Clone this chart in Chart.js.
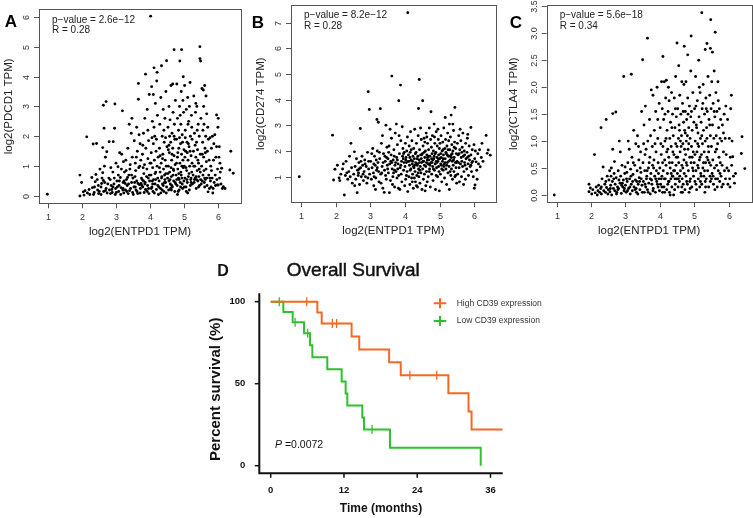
<!DOCTYPE html>
<html>
<head>
<meta charset="utf-8">
<script src="https://cdn.jsdelivr.net/npm/chart.js@4.4.1/dist/chart.umd.min.js"></script>
<style>
html,body{margin:0;padding:0;background:#fff;}
#wrap{position:relative;width:753px;height:518px;overflow:hidden;background:#fff;}
canvas{position:absolute;left:0;top:0;}
</style>
</head>
<body>
<div id="wrap">
<canvas id="cA" width="753" height="518"></canvas>
<canvas id="cB" width="753" height="518"></canvas>
<canvas id="cC" width="753" height="518"></canvas>
<canvas id="cD" width="753" height="518"></canvas>
</div>
<script>
// ---------------- DATA ----------------
const scatterXTicks = [1, 2, 3, 4, 5, 6];
const pdcd1YTicks = [0, 1, 2, 3, 4, 5, 6];
const cd274YTicks = [1, 2, 3, 4, 5, 6, 7];
const ctla4YTicks = [0, 0.5, 1, 1.5, 2, 2.5, 3, 3.5];

const pdcd1Stats = ["p\u2212value = 2.6e\u221212", "R = 0.28"];
const cd274Stats = ["p\u2212value = 8.2e\u221212", "R = 0.28"];
const ctla4Stats = ["p\u2212value = 5.6e\u221218", "R = 0.34"];

// log2(ENTPD1 TPM) vs log2(PDCD1 TPM)
const pdcd1Pts = [[0.97,0.06],[1.93,0.70],[1.98,0.45],[1.93,0.0],[2.03,0.14],[2.08,0.18],[2.13,1.98],[2.15,0.10],[2.2,0.22],[2.22,0.05],[2.05,0.03],
[2.28,0.62],[2.3,0.28],[2.32,1.74],[2.35,0.12],[2.38,0.48],[2.4,0.72],[2.42,1.76],[2.45,0.2],[2.47,0.35],[2.33,0.05],[2.44,0.55],[2.48,0.08],
[2.52,0.9],[2.55,0.3],[2.58,0.6],[2.6,1.62],[2.62,3.04],[2.63,0.15],[2.64,2.27],[2.66,0.45],[2.68,1.3],[2.7,3.16],[2.72,1.48],[2.55,0.05],[2.6,0.78],[2.7,0.25],[2.73,0.1],[2.65,1.0],[2.57,0.42],
[2.79,1.82],[2.8,0.2],[2.82,0.55],[2.85,0.35],[2.88,0.12],[2.9,0.8],[2.91,1.82],[2.93,0.4],[2.95,2.27],[2.96,3.08],[2.98,0.25],[2.78,0.6],[2.84,0.95],[2.97,0.05],[2.87,0.22],[2.99,1.1],
[3.02,0.5],[3.05,0.98],[3.07,0.15],[3.08,0.35],[3.1,1.45],[3.12,0.62],[3.14,0.28],[3.16,1.4],[3.18,2.85],[3.2,0.45],[3.22,0.1],[3.24,0.8],[3.03,0.3],[3.15,0.9],[3.19,0.2],[3.21,1.15],[3.06,0.7],[3.23,0.5],
[3.27,0.2],[3.28,1.2],[3.3,0.55],[3.32,0.35],[3.34,1.6],[3.35,0.08],[3.37,0.7],[3.38,2.4],[3.4,0.9],[3.42,0.25],[3.44,2.1],[3.45,0.45],[3.47,1.3],[3.48,0.12],[3.29,0.85],[3.36,0.4],[3.41,1.05],[3.46,2.6],[3.49,0.6],[3.31,0.15],
[3.52,0.3],[3.53,1.85],[3.55,0.65],[3.56,1.1],[3.58,0.2],[3.6,2.3],[3.6,0.5],[3.62,1.5],[3.63,0.08],[3.65,3.24],[3.65,3.77],[3.66,0.95],[3.68,0.38],[3.7,1.75],[3.71,0.25],[3.72,1.2],[3.74,0.6],[3.54,0.45],[3.57,0.85],[3.61,0.15],[3.67,2.05],[3.73,0.42],[3.69,1.0],[3.59,1.3],
[3.76,0.55],[3.77,1.4],[3.78,0.3],[3.8,2.1],[3.81,0.75],[3.82,0.12],[3.83,1.05],[3.84,2.6],[3.85,0.45],[3.86,4.08],[3.87,1.6],[3.88,0.2],[3.9,0.9],[3.91,2.9],[3.92,0.35],[3.93,1.25],[3.94,0.6],[3.95,1.85],[3.96,0.08],[3.97,3.4],[3.98,0.5],[3.99,1.1],[3.79,0.95],[3.89,0.65],[3.93,2.2],[3.78,1.7],[3.95,0.25],[3.84,0.4],
[4.01,6.02],[4.02,0.7],[4.03,1.45],[4.04,3.66],[4.05,0.3],[4.06,2.5],[4.07,0.95],[4.08,0.15],[4.09,1.75],[4.1,0.55],[4.11,4.29],[4.12,1.2],[4.13,2.0],[4.14,0.4],[4.15,3.1],[4.16,0.8],[4.17,1.5],[4.18,0.22],[4.19,3.85],[4.2,4.14],[4.2,1.0],[4.21,2.7],[4.22,0.6],[4.23,1.3],[4.24,0.05],[4.02,1.1],[4.06,0.5],[4.11,2.3],[4.14,0.75],[4.18,1.9],[4.22,0.35],[4.09,3.4],[4.05,1.95],
[4.26,0.5],[4.27,1.6],[4.28,2.4],[4.29,0.8],[4.3,0.25],[4.31,3.3],[4.32,1.1],[4.33,4.36],[4.34,0.65],[4.35,2.0],[4.36,0.4],[4.37,1.4],[4.38,2.9],[4.39,0.9],[4.4,0.15],[4.41,1.8],[4.42,0.7],[4.43,2.6],[4.44,1.2],[4.45,0.45],[4.46,3.5],[4.47,1.0],[4.48,4.53],[4.48,0.3],[4.49,1.65],[4.27,0.95],[4.33,0.6],[4.36,1.25],[4.4,2.2],[4.43,0.55],[4.46,0.75],[4.29,1.35],[4.38,0.35],[4.45,1.95],[4.31,0.1],
[4.51,0.6],[4.52,2.3],[4.53,1.0],[4.54,0.2],[4.55,3.0],[4.56,1.45],[4.57,0.8],[4.58,2.55],[4.59,0.4],[4.6,1.8],[4.61,3.7],[4.62,0.65],[4.63,1.2],[4.64,2.1],[4.65,0.3],[4.66,1.6],[4.67,2.8],[4.68,0.9],[4.69,0.5],[4.7,4.9],[4.7,1.35],[4.71,2.4],[4.72,0.15],[4.73,1.05],[4.74,3.2],[4.52,0.75],[4.55,1.7],[4.58,0.55],[4.61,0.95],[4.64,1.4],[4.67,0.7],[4.7,2.0],[4.73,0.45],[4.6,0.25],[4.66,3.75],[4.53,1.55],[4.57,2.0],[4.63,0.35],[4.72,1.9],[4.69,0.85],
[4.76,0.7],[4.77,1.9],[4.78,3.75],[4.79,0.35],[4.8,1.3],[4.8,2.6],[4.81,0.9],[4.82,0.15],[4.83,2.2],[4.84,1.6],[4.85,0.55],[4.86,3.0],[4.87,4.52],[4.87,1.1],[4.88,0.45],[4.89,1.75],[4.9,2.4],[4.9,0.8],[4.91,3.5],[4.92,4.9],[4.92,1.4],[4.93,0.6],[4.94,2.05],[4.95,0.25],[4.96,1.2],[4.97,3.99],[4.97,0.95],[4.98,2.8],[4.99,0.5],[4.99,1.55],[4.78,0.55],[4.81,1.45],[4.84,0.75],[4.86,1.95],[4.89,0.3],[4.93,1.0],[4.95,1.8],[4.77,1.1],[4.83,0.6],[4.88,2.7],[4.94,0.4],[4.96,3.2],[4.8,0.05],[4.91,0.7],
[5.0,1.0],[5.01,3.7],[5.02,0.6],[5.03,2.2],[5.04,1.5],[5.05,0.3],[5.06,2.9],[5.07,0.85],[5.08,1.8],[5.09,0.45],[5.1,3.3],[5.11,1.2],[5.12,0.65],[5.13,2.5],[5.14,1.65],[5.15,0.2],[5.16,1.0],[5.17,3.8],[5.18,2.0],[5.19,0.55],[5.2,1.35],[5.21,2.7],[5.22,0.8],[5.23,1.9],[5.24,0.4],[5.02,1.3],[5.05,0.95],[5.08,0.55],[5.11,2.4],[5.14,0.75],[5.17,1.5],[5.2,0.6],[5.23,1.1],[5.03,1.95],[5.06,0.15],[5.12,1.75],[5.18,0.35],[5.09,1.45],[5.15,3.0],[5.22,2.3],
[5.26,0.7],[5.27,1.5],[5.28,3.35],[5.29,0.45],[5.3,2.1],[5.31,1.0],[5.32,0.6],[5.33,2.8],[5.34,1.3],[5.35,0.25],[5.36,1.8],[5.37,3.0],[5.38,0.85],[5.39,1.55],[5.4,0.5],[5.41,2.4],[5.42,1.1],[5.43,0.65],[5.44,2.0],[5.45,0.35],[5.46,5.0],[5.46,4.6],[5.47,1.4],[5.48,4.52],[5.48,0.55],[5.49,2.6],[5.28,1.0],[5.32,1.7],[5.36,0.55],[5.4,1.2],[5.44,0.9],[5.3,0.55],[5.38,2.2],[5.42,0.3],[5.34,3.1],[5.47,0.8],
[5.51,1.0],[5.52,3.6],[5.53,0.5],[5.54,1.8],[5.55,0.7],[5.56,3.55],[5.57,1.3],[5.58,2.4],[5.59,0.45],[5.6,3.7],[5.61,1.6],[5.62,0.55],[5.63,2.0],[5.64,0.9],[5.65,1.15],[5.66,2.75],[5.67,0.35],[5.68,1.5],[5.7,0.14],[5.71,1.9],[5.72,0.7],[5.73,1.2],[5.74,0.25],[5.55,2.2],[5.58,0.85],[5.62,1.45],[5.66,0.6],[5.53,1.4],[5.6,0.3],[5.69,2.3],[5.57,3.0],[5.64,3.35],
[5.76,1.95],[5.77,0.5],[5.78,1.0],[5.79,0.3],[5.8,1.6],[5.82,0.6],[5.83,2.0],[5.85,0.25],[5.86,1.2],[5.88,0.45],[5.9,2.05],[5.92,0.35],[5.93,1.3],[5.95,1.65],[5.95,2.71],[5.96,0.55],[5.98,0.9],[5.99,2.3],[5.8,0.85],[5.87,1.75],[5.91,0.7],[5.84,0.1],[5.97,0.37],
[6.0,2.6],[6.0,0.37],[6.02,1.3],[6.04,0.6],[6.06,0.8],[6.08,0.4],[6.1,0.93],[6.12,0.25],[6.15,0.31],[6.05,1.1],[6.34,0.87],[6.37,1.5],[6.44,0.76],[6.2,0.25],[6.03,1.65],
[2.36,0.3],[2.5,0.15],[2.62,0.52],[2.75,0.4],[2.83,0.08],[2.94,0.6],[3.0,0.12],[3.09,0.5],[3.13,0.05],[3.26,0.42],[3.33,0.62],[3.39,0.18],[3.5,0.05],[3.56,0.3],[3.64,0.42],[3.7,0.1],[3.75,0.35],[3.8,0.5],[3.86,0.22],[3.91,0.15],[3.97,0.7],[4.03,0.25],[4.07,0.4],[4.12,0.1],[4.16,0.55],[4.25,0.3],[4.35,0.2],[4.42,0.45],[4.47,0.1],[4.55,0.5],[4.62,0.2],[4.75,0.4],[4.85,0.2],[5.0,0.3],[5.1,0.1],[5.2,0.45],[5.35,0.65],[5.5,0.4],[5.6,0.6],[5.75,0.6],[3.45,0.7],[3.2,0.25],[2.9,0.3],[2.68,0.18]];

// log2(ENTPD1 TPM) vs log2(CD274 TPM)
const cd274Pts = [[0.95,1.0],[1.91,2.62],[1.94,0.87],[1.98,1.29],[2.05,1.45],[2.1,0.95],[2.15,1.1],[2.2,1.3],[2.25,0.29],[2.28,1.05],[2.3,1.6],[2.35,0.9],[2.38,1.2],[2.42,1.0],[2.44,2.3],[2.46,1.35],[2.48,0.75],[2.12,0.85],[2.22,1.5],[2.32,1.15],[2.4,1.8],
[2.52,1.1],[2.54,1.97],[2.56,1.4],[2.58,0.9],[2.6,1.7],[2.62,0.38],[2.63,1.25],[2.65,1.05],[2.67,1.55],[2.69,0.7],[2.71,2.88],[2.72,1.35],[2.74,1.0],[2.76,1.8],[2.78,1.45],[2.8,0.85],[2.82,1.2],[2.84,1.65],[2.86,1.0],[2.88,1.4],[2.9,0.75],[2.92,1.95],[2.94,4.31],[2.95,1.3],[2.97,3.62],[2.98,1.1],[2.55,0.65],[2.66,1.15],[2.73,1.6],[2.85,1.5],[2.93,0.95],[2.79,1.1],
[3.01,1.6],[3.03,0.9],[3.05,1.35],[3.07,2.1],[3.09,1.15],[3.1,0.65],[3.12,1.8],[3.14,1.45],[3.16,0.95],[3.18,1.25],[3.19,3.23],[3.2,2.0],[3.22,1.55],[3.23,3.12],[3.25,0.8],[3.27,1.7],[3.29,3.65],[3.3,1.1],[3.32,2.3],[3.34,1.4],[3.36,0.55],[3.38,1.9],[3.4,0.39],[3.41,1.25],[3.43,1.6],[3.45,3.01],[3.46,0.9],[3.48,2.15],[3.49,1.45],[3.04,1.9],[3.11,1.0],[3.17,1.65],[3.24,1.2],[3.31,0.75],[3.37,1.55],[3.44,1.05],[3.15,0.5],[3.35,2.6],[3.26,1.95],[3.47,1.75],
[3.51,1.7],[3.52,1.15],[3.54,2.2],[3.55,0.38],[3.56,1.5],[3.58,0.85],[3.6,1.85],[3.61,2.5],[3.62,4.92],[3.63,1.3],[3.65,1.0],[3.66,1.65],[3.68,2.05],[3.7,0.6],[3.71,1.45],[3.72,2.7],[3.74,1.2],[3.76,1.75],[3.77,0.95],[3.78,2.25],[3.8,1.5],[3.82,3.96],[3.82,1.05],[3.84,1.9],[3.85,0.5],[3.86,1.35],[3.87,4.57],[3.88,2.4],[3.9,1.6],[3.91,0.8],[3.93,1.8],[3.94,2.1],[3.96,1.25],[3.97,1.55],[3.99,0.65],[3.53,1.95],[3.59,1.6],[3.64,0.7],[3.69,1.8],[3.73,1.55],[3.79,1.3],[3.83,2.6],[3.89,1.1],[3.95,1.7],[3.57,2.85],[3.75,3.05],[3.92,2.95],[3.67,1.15],[3.81,0.55],[3.98,1.95],
[4.0,1.4],[4.01,2.3],[4.02,0.9],[4.03,1.75],[4.05,2.0],[4.06,1.2],[4.07,2.55],[4.08,7.39],[4.08,0.42],[4.09,1.6],[4.1,1.85],[4.11,1.0],[4.12,2.2],[4.13,1.45],[4.14,0.7],[4.15,1.95],[4.16,2.75],[4.17,1.3],[4.18,1.65],[4.19,0.95],[4.2,2.4],[4.21,1.5],[4.22,1.1],[4.23,1.8],[4.24,0.55],[4.25,2.1],[4.26,1.35],[4.27,1.7],[4.28,2.85],[4.29,1.2],[4.3,0.8],[4.31,1.55],[4.32,1.95],[4.33,2.3],[4.34,1.05],[4.35,1.45],[4.36,0.6],[4.37,1.8],[4.38,2.6],[4.39,3.66],[4.39,1.3],[4.4,1.0],[4.41,4.79],[4.41,1.65],[4.42,2.05],[4.43,0.75],[4.44,1.4],[4.45,1.85],[4.46,1.15],[4.47,2.45],[4.48,1.55],[4.49,0.5],[4.04,1.05],[4.12,1.6],[4.18,2.05],[4.24,1.4],[4.3,1.9],[4.36,1.5],[4.43,1.25],[4.47,1.7],[4.02,1.65],[4.27,0.95],[4.33,0.65],[4.45,2.9],[4.15,1.25],[4.21,0.8],[4.38,1.15],
[4.5,1.9],[4.51,3.96],[4.51,1.3],[4.52,2.2],[4.53,0.9],[4.54,1.6],[4.55,2.5],[4.56,1.1],[4.57,1.75],[4.58,0.45],[4.59,2.0],[4.6,1.4],[4.61,2.7],[4.62,1.2],[4.63,1.85],[4.64,0.8],[4.65,2.3],[4.66,1.5],[4.67,1.0],[4.68,2.05],[4.69,1.65],[4.7,2.9],[4.71,1.3],[4.72,1.8],[4.73,0.6],[4.74,2.45],[4.75,3.53],[4.75,1.55],[4.76,2.15],[4.77,1.1],[4.78,1.9],[4.79,2.6],[4.8,1.4],[4.81,0.85],[4.82,2.0],[4.83,1.7],[4.84,3.05],[4.85,1.25],[4.86,2.3],[4.87,1.5],[4.88,0.5],[4.89,1.95],[4.9,2.75],[4.91,1.35],[4.92,1.75],[4.93,2.2],[4.94,1.0],[4.95,1.6],[4.96,2.45],[4.97,1.85],[4.98,1.2],[4.99,0.45],[4.99,2.1],[4.52,1.6],[4.57,2.35],[4.62,1.55],[4.67,1.8],[4.72,1.45],[4.77,1.7],[4.82,1.3],[4.87,1.9],[4.92,1.55],[4.97,1.4],[4.55,1.95],[4.65,1.75],[4.85,2.55],[4.95,2.85],[4.6,0.65],[4.8,1.65],[4.9,1.05],[4.7,1.2],[4.63,2.55],
[5.0,1.7],[5.01,2.3],[5.02,1.1],[5.03,1.9],[5.04,2.6],[5.05,1.45],[5.06,0.8],[5.07,2.0],[5.08,1.6],[5.09,2.35],[5.1,1.25],[5.11,1.85],[5.12,2.9],[5.13,1.5],[5.14,0.95],[5.15,2.1],[5.16,3.31],[5.16,1.7],[5.17,2.45],[5.18,1.3],[5.19,1.9],[5.2,0.7],[5.21,2.2],[5.22,1.55],[5.23,2.7],[5.24,1.15],[5.25,1.8],[5.26,2.4],[5.27,1.4],[5.28,0.5],[5.29,2.05],[5.3,1.65],[5.31,2.55],[5.32,1.05],[5.33,3.4],[5.33,1.85],[5.34,1.3],[5.35,2.25],[5.36,1.6],[5.37,0.9],[5.38,2.0],[5.39,1.45],[5.4,2.8],[5.41,1.2],[5.42,1.75],[5.43,2.35],[5.44,3.7],[5.44,1.0],[5.45,1.55],[5.46,2.1],[5.47,1.35],[5.48,1.9],[5.49,0.75],[5.04,1.75],[5.1,2.05],[5.18,1.95],[5.26,1.6],[5.34,1.75],[5.42,2.15],[5.06,1.3],[5.2,1.45],[5.3,1.2],[5.38,3.05],[5.46,1.05],[5.12,1.4],[5.24,2.05],[5.36,1.9],[5.28,3.05],
[5.5,1.6],[5.51,2.3],[5.52,1.1],[5.53,1.85],[5.55,2.6],[5.56,1.35],[5.57,0.8],[5.58,2.05],[5.6,1.5],[5.61,2.4],[5.62,1.75],[5.63,1.0],[5.65,2.15],[5.66,1.4],[5.67,2.7],[5.68,1.8],[5.7,1.2],[5.71,2.0],[5.72,1.55],[5.74,0.9],[5.75,2.3],[5.76,1.7],[5.78,1.3],[5.79,1.95],[5.8,2.5],[5.82,1.5],[5.83,1.05],[5.85,2.2],[5.86,1.65],[5.88,1.4],[5.9,2.92],[5.9,1.85],[5.92,1.2],[5.94,2.05],[5.95,1.6],[5.97,1.0],[5.99,2.25],[5.54,1.55],[5.64,1.95],[5.73,1.45],[5.84,1.8],[5.93,1.55],[5.59,2.85],[5.69,0.7],[5.81,2.65],
[6.0,0.55],[6.02,0.68],[6.01,1.7],[6.03,2.0],[6.05,1.58],[6.07,1.25],[6.1,1.9],[6.12,1.5],[6.15,2.05],[6.17,1.39],[6.2,1.75],[6.25,1.6],[6.34,2.61],[6.37,1.91],[6.4,2.04],[6.46,1.84],[6.08,0.9],[6.22,2.3],
[3.2,1.35],[3.33,1.15],[3.42,1.8],[3.5,1.3],[3.62,1.55],[3.7,1.25],[3.78,1.65],[3.88,1.45],[3.96,1.9],[4.04,1.55],[4.14,1.75],[4.22,1.6],[4.28,1.45],[4.35,1.7],[4.42,1.55],[4.48,1.85],[4.56,1.45],[4.64,1.65],[4.7,1.5],[4.78,1.55],[4.84,1.8],[4.9,1.6],[4.96,1.7],[5.03,1.5],[5.1,1.7],[5.16,1.55],[5.22,1.85],[5.3,1.8],[5.4,1.65],[5.48,1.55],[5.56,1.9],[5.64,1.6],[5.72,1.85],[5.8,1.75],[5.9,1.45],[3.1,1.5],[2.95,1.6],[2.68,1.3]];

// log2(ENTPD1 TPM) vs log2(CTLA4 TPM)
const ctla4Pts = [[0.93,0.0],[1.94,0.2],[1.94,0.06],[1.98,0.13],[2.02,0.02],[2.05,0.1],[2.1,0.75],[2.12,0.04],[2.15,0.15],[2.18,0.0],[2.2,0.08],[2.22,0.18],[2.25,0.05],[2.28,0.12],[2.29,1.25],[2.3,0.02],[2.32,0.3],[2.35,0.52],[2.37,0.08],[2.4,0.2],[2.42,0.05],[2.44,1.4],[2.45,0.14],[2.47,0.35],[2.49,0.02],
[2.5,0.1],[2.52,0.28],[2.54,0.45],[2.55,0.06],[2.57,0.18],[2.59,0.5],[2.6,0.0],[2.62,0.25],[2.63,0.85],[2.63,1.51],[2.65,0.12],[2.67,0.4],[2.69,0.08],[2.7,0.2],[2.72,1.54],[2.73,0.32],[2.75,0.05],[2.77,0.15],[2.79,0.45],[2.8,0.12],[2.82,1.0],[2.84,0.22],[2.86,0.35],[2.88,0.03],[2.9,0.55],[2.92,0.15],[2.94,0.28],[2.95,2.2],[2.96,0.08],[2.98,0.4],[2.58,0.35],[2.68,0.62],[2.78,0.1],[2.85,0.8],[2.91,0.22],[2.99,0.52],
[3.0,0.18],[3.02,0.05],[3.04,0.42],[3.05,0.25],[3.07,0.6],[3.09,0.12],[3.11,0.85],[3.12,0.3],[3.14,0.02],[3.15,0.48],[3.17,2.24],[3.17,0.2],[3.19,0.7],[3.2,0.08],[3.22,0.38],[3.24,1.2],[3.25,0.15],[3.27,0.55],[3.29,0.28],[3.3,0.95],[3.32,0.05],[3.34,0.45],[3.35,1.1],[3.37,0.2],[3.39,0.65],[3.4,0.32],[3.42,0.1],[3.44,0.8],[3.45,0.42],[3.47,1.55],[3.48,0.18],[3.5,2.51],[3.03,0.3],[3.13,0.15],[3.23,0.6],[3.33,0.25],[3.43,0.5],[3.08,1.0],[3.28,0.1],[3.38,0.9],[3.46,0.3],[3.36,0.02],
[3.51,0.6],[3.52,0.25],[3.54,1.3],[3.55,0.05],[3.56,0.45],[3.58,1.65],[3.59,0.15],[3.6,0.85],[3.62,0.35],[3.64,2.91],[3.64,0.1],[3.65,1.0],[3.67,0.5],[3.68,0.22],[3.7,1.4],[3.71,0.7],[3.72,0.02],[3.74,0.4],[3.75,1.95],[3.76,0.28],[3.78,0.9],[3.79,0.55],[3.8,1.85],[3.81,0.12],[3.83,0.65],[3.84,1.2],[3.85,0.35],[3.87,0.05],[3.88,1.55],[3.89,0.8],[3.9,0.45],[3.92,2.0],[3.93,0.2],[3.94,1.05],[3.95,0.6],[3.97,0.3],[3.98,1.7],[3.99,0.08],[3.53,0.95],[3.61,0.3],[3.69,0.6],[3.77,0.2],[3.86,0.95],[3.96,0.4],[3.57,0.75],[3.73,1.1],[3.82,0.5],[3.91,0.25],[3.66,0.05],[3.94,1.4],
[4.0,0.5],[4.01,1.25],[4.02,0.2],[4.04,0.75],[4.05,2.1],[4.06,0.35],[4.07,1.6],[4.08,0.05],[4.09,2.57],[4.09,0.9],[4.1,0.45],[4.11,1.4],[4.12,0.15],[4.13,2.1],[4.14,0.65],[4.15,1.0],[4.16,0.3],[4.17,1.8],[4.18,0.55],[4.19,2.13],[4.2,0.1],[4.21,1.2],[4.22,0.4],[4.23,0.85],[4.24,1.55],[4.25,0.25],[4.26,0.7],[4.27,1.75],[4.28,0.05],[4.29,1.05],[4.3,0.5],[4.31,1.35],[4.32,0.3],[4.33,0.9],[4.34,1.9],[4.35,0.15],[4.36,0.6],[4.37,1.5],[4.38,0.35],[4.39,1.1],[4.4,0.0],[4.41,0.75],[4.42,1.8],[4.43,0.45],[4.44,1.25],[4.45,0.2],[4.46,2.2],[4.46,0.95],[4.47,0.55],[4.48,1.45],[4.49,0.3],[4.03,0.95],[4.08,0.6],[4.13,0.3],[4.18,1.05],[4.23,0.2],[4.28,0.6],[4.33,0.4],[4.38,0.8],[4.43,0.1],[4.48,0.7],[4.15,1.5],[4.25,2.0],[4.35,1.25],[4.45,1.6],[4.06,0.15],[4.4,0.45],[4.3,0.0],[4.2,0.8],
[4.5,2.82],[4.5,0.9],[4.51,0.4],[4.52,1.6],[4.53,0.15],[4.54,1.05],[4.55,2.4],[4.55,0.6],[4.56,1.3],[4.57,0.25],[4.58,1.85],[4.59,0.8],[4.6,0.45],[4.61,1.5],[4.62,0.05],[4.63,1.1],[4.64,2.1],[4.64,0.55],[4.65,0.3],[4.66,1.7],[4.67,0.95],[4.68,0.2],[4.69,1.35],[4.7,2.05],[4.7,0.65],[4.71,2.76],[4.71,0.4],[4.72,1.2],[4.73,0.1],[4.74,1.55],[4.75,0.75],[4.76,2.1],[4.76,0.35],[4.77,1.0],[4.78,1.4],[4.79,0.55],[4.8,0.2],[4.81,2.6],[4.81,1.8],[4.82,0.85],[4.83,0.45],[4.84,1.25],[4.85,0.05],[4.86,1.65],[4.87,0.7],[4.88,1.05],[4.89,0.3],[4.9,2.3],[4.9,1.45],[4.91,2.95],[4.91,0.6],[4.92,0.9],[4.93,0.15],[4.94,1.2],[4.95,0.5],[4.96,1.9],[4.97,0.8],[4.98,0.35],[4.99,1.35],[4.52,0.7],[4.57,1.2],[4.62,0.9],[4.67,0.5],[4.72,0.85],[4.77,0.6],[4.82,1.5],[4.87,0.25],[4.92,1.55],[4.97,0.45],[4.54,0.3],[4.64,0.15],[4.74,1.15],[4.84,0.95],[4.94,0.7],[4.6,1.0],[4.8,1.1],[4.68,1.55],
[5.0,0.6],[5.01,1.6],[5.02,0.25],[5.03,1.0],[5.04,2.2],[5.05,0.45],[5.06,1.3],[5.07,0.1],[5.08,0.8],[5.09,1.75],[5.1,0.55],[5.11,1.15],[5.12,0.3],[5.13,2.5],[5.13,0.9],[5.14,1.45],[5.15,0.65],[5.16,0.15],[5.17,1.9],[5.18,1.05],[5.19,0.4],[5.2,1.35],[5.21,0.75],[5.22,3.38],[5.22,0.2],[5.23,1.6],[5.24,0.95],[5.25,0.5],[5.26,2.05],[5.27,1.2],[5.28,0.35],[5.29,0.8],[5.3,1.5],[5.31,0.05],[5.32,2.7],[5.32,1.0],[5.33,0.6],[5.34,1.8],[5.35,0.3],[5.36,1.25],[5.37,2.81],[5.37,0.7],[5.38,1.55],[5.39,0.45],[5.4,2.2],[5.41,0.9],[5.42,0.15],[5.43,1.4],[5.44,0.6],[5.45,1.85],[5.46,0.35],[5.47,2.72],[5.47,1.1],[5.48,3.25],[5.48,0.55],[5.49,1.6],[5.02,0.75],[5.07,1.25],[5.12,0.5],[5.17,0.7],[5.22,1.1],[5.27,0.6],[5.32,0.25],[5.37,1.05],[5.42,0.8],[5.47,0.25],[5.05,1.65],[5.15,2.0],[5.25,1.7],[5.35,1.6],[5.45,1.3],[5.1,0.95],[5.2,0.35],[5.3,0.45],[5.4,0.65],
[5.5,0.9],[5.51,2.1],[5.52,0.4],[5.53,1.3],[5.54,0.65],[5.55,1.7],[5.56,0.2],[5.57,1.05],[5.58,2.3],[5.59,0.5],[5.6,1.45],[5.61,3.02],[5.61,0.8],[5.62,0.3],[5.63,1.9],[5.64,1.1],[5.65,0.55],[5.66,1.55],[5.67,0.15],[5.68,0.95],[5.69,2.1],[5.7,0.45],[5.71,1.25],[5.72,0.7],[5.73,1.6],[5.74,0.25],[5.75,1.05],[5.76,0.6],[5.77,1.4],[5.78,0.35],[5.8,1.0],[5.81,0.55],[5.82,1.3],[5.84,0.2],[5.85,0.8],[5.87,1.5],[5.88,0.45],[5.9,1.05],[5.91,0.3],[5.93,0.75],[5.95,0.5],[5.97,1.4],[5.98,0.2],[5.55,0.35],[5.65,0.85],[5.75,0.4],[5.85,1.15],[5.6,0.1],[5.7,1.75],[5.8,0.15],[5.92,1.65],[5.53,2.65],[5.58,1.55],
[6.0,0.45],[6.02,1.05],[6.03,0.3],[6.05,0.7],[6.06,1.6],[6.08,1.85],[6.09,0.55],[6.12,0.71],[6.14,0.35],[6.17,0.22],[6.04,0.15],[6.1,1.0],[6.37,0.77],[6.39,1.08],[6.47,0.49],[6.2,0.4],
[2.3,0.15],[2.43,0.25],[2.56,0.12],[2.66,0.3],[2.74,0.02],[2.81,0.28],[2.89,0.18],[2.97,0.12],[3.06,0.08],[3.16,0.35],[3.21,0.25],[3.31,0.12],[3.41,0.25],[3.49,0.05],[3.57,0.2],[3.63,0.45],[3.72,0.3],[3.8,0.08],[3.88,0.3],[3.95,0.15],[4.04,0.3],[4.14,0.05],[4.27,0.25],[4.36,0.35],[4.44,0.3],[4.58,0.35],[4.66,0.05],[4.78,0.25],[4.88,0.12],[5.05,0.2],[5.18,0.25],[5.33,0.15],[5.5,0.3],[5.68,0.3]];

// Kaplan-Meier: Overall Survival
const survXTicks = [0, 12, 24, 36];
const survYTicks = [0, 50, 100];
const highTimes = [0, 7.64, 8.35, 13.25, 14.5, 19.4, 21.3, 29.1, 32.4, 32.9, 38];
const highSurv  = [100, 93.33, 86.67, 78.79, 70.91, 63.03, 55.15, 44.12, 33.09, 22.06, 22.06];
const highCensT = [5.9, 10.1, 10.8, 22.8, 27.2];
const highCensS = [100, 86.67, 86.67, 55.15, 55.15];
const lowTimes  = [0, 2.07, 3.6, 5.46, 6.44, 6.82, 9.27, 11.62, 12.27, 12.55, 15.0, 15.28, 19.53, 34.4];
const lowSurv   = [100, 93.75, 87.5, 80.77, 73.43, 66.08, 58.74, 51.40, 44.06, 36.71, 29.37, 22.03, 11.01, 0];
const lowCensT  = [1.4, 4.0, 6.05, 16.6];
const lowCensS  = [100, 87.5, 80.77, 22.03];
const survLegend = ["High CD39 expression", "Low CD39 expression"];
const survP = "0.0072";

// ---------------- DRAWING ----------------
const FF = '"Liberation Sans", Arial, Helvetica, sans-serif';
const ORANGE = '#F26A22';
const GREEN = '#2EC12E';

function toXY(pts){ return pts.map(p => ({x:p[0], y:p[1]})); }
function zipXY(xs, ys){ return xs.map((x,i) => ({x:x, y:ys[i]})); }

function rPanelPlugin(o){
  return {
    id: 'rpanel' + o.letter,
    afterDraw(chart){
      const ctx = chart.ctx, a = chart.chartArea;
      const xs = chart.scales.x, ys = chart.scales.y;
      ctx.save();
      ctx.strokeStyle = '#555'; ctx.lineWidth = 1;
      ctx.strokeRect(Math.round(a.left)+0.5, Math.round(a.top)+0.5, Math.round(a.right-a.left), Math.round(a.bottom-a.top));
      ctx.fillStyle = '#333';
      ctx.font = '9px ' + FF;
      ctx.textAlign = 'center'; ctx.textBaseline = 'middle';
      o.xTicks.forEach(t => {
        const px = Math.round(xs.getPixelForValue(t)) + 0.5;
        ctx.beginPath(); ctx.moveTo(px, a.bottom); ctx.lineTo(px, a.bottom + 5); ctx.stroke();
        ctx.fillText(String(t), px, a.bottom + 14);
      });
      o.yTicks.forEach(t => {
        const py = Math.round(ys.getPixelForValue(t)) + 0.5;
        ctx.beginPath(); ctx.moveTo(a.left - 5, py); ctx.lineTo(a.left, py); ctx.stroke();
        ctx.save(); ctx.translate(a.left - 12, py); ctx.rotate(-Math.PI/2);
        ctx.fillText(o.yFmt(t), 0, 0); ctx.restore();
      });
      ctx.fillStyle = '#222';
      ctx.font = '11.5px ' + FF;
      ctx.fillText(o.xTitle, (a.left + a.right)/2, a.bottom + 29);
      ctx.save(); ctx.translate(a.left - o.yTitleOff, (a.top + a.bottom)/2); ctx.rotate(-Math.PI/2);
      ctx.fillText(o.yTitle, 0, 0); ctx.restore();
      ctx.textAlign = 'left';
      ctx.font = '10px ' + FF;
      ctx.fillText(o.stats[0], a.left + 13, a.top + 10.7);
      ctx.fillText(o.stats[1], a.left + 13, a.top + 21);
      ctx.fillStyle = '#000';
      ctx.textAlign = 'center';
      ctx.font = 'bold 17px ' + FF;
      ctx.fillText(o.letter, o.letterX, o.letterY);
      ctx.restore();
    }
  };
}

function makeScatter(id, pts, xr, yr, pad, o){
  new Chart(document.getElementById(id), {
    type: 'scatter',
    data: { datasets: [{ data: toXY(pts), pointRadius: 1.45, pointHoverRadius: 1.45, backgroundColor: '#000', borderWidth: 0 }] },
    options: {
      responsive: false, animation: false, devicePixelRatio: 1,
      layout: { padding: pad },
      plugins: { legend: { display: false }, tooltip: { enabled: false } },
      scales: {
        x: { type: 'linear', display: false, min: xr[0], max: xr[1] },
        y: { type: 'linear', display: false, min: yr[0], max: yr[1] }
      }
    },
    plugins: [rPanelPlugin(o)]
  });
}

const intFmt = t => String(t);
const decFmt = t => t.toFixed(1);

makeScatter('cA', pdcd1Pts, [0.726, 6.669], [-0.244, 6.25],
  {left: 39, top: 9.3, right: 512, bottom: 314.7},
  {xTicks: scatterXTicks, yTicks: pdcd1YTicks, yFmt: intFmt, xTitle: 'log2(ENTPD1 TPM)', yTitle: 'log2(PDCD1 TPM)', yTitleOff: 30, stats: pdcd1Stats, letter: 'A', letterX: 11, letterY: 22});
makeScatter('cB', cd274Pts, [0.712, 6.616], [0.004, 7.69],
  {left: 291, top: 5, right: 257.3, bottom: 315.7},
  {xTicks: scatterXTicks, yTicks: cd274YTicks, yFmt: intFmt, xTitle: 'log2(ENTPD1 TPM)', yTitle: 'log2(CD274 TPM)', yTitleOff: 30, stats: cd274Stats, letter: 'B', letterX: 258, letterY: 23});
makeScatter('cC', ctla4Pts, [0.71, 6.667], [-0.135, 3.525],
  {left: 546.7, top: 5, right: 1, bottom: 315.7},
  {xTicks: scatterXTicks, yTicks: ctla4YTicks, yFmt: decFmt, xTitle: 'log2(ENTPD1 TPM)', yTitle: 'log2(CTLA4 TPM)', yTitleOff: 33, stats: ctla4Stats, letter: 'C', letterX: 516, letterY: 23});

// Survival panel
const survPlugin = {
  id: 'survpanel',
  afterDraw(chart){
    const ctx = chart.ctx, a = chart.chartArea;
    const xs = chart.scales.x, ys = chart.scales.y;
    ctx.save();
    ctx.strokeStyle = '#111'; ctx.lineWidth = 2; ctx.lineCap = 'butt';
    ctx.beginPath(); ctx.moveTo(a.left, a.top); ctx.lineTo(a.left, a.bottom); ctx.lineTo(a.right, a.bottom); ctx.stroke();
    ctx.lineWidth = 1.5;
    ctx.fillStyle = '#111';
    ctx.font = 'bold 9.5px ' + FF;
    ctx.textAlign = 'center'; ctx.textBaseline = 'middle';
    survXTicks.forEach(t => {
      const px = xs.getPixelForValue(t);
      ctx.beginPath(); ctx.moveTo(px, a.bottom); ctx.lineTo(px, a.bottom + 4.5); ctx.stroke();
      ctx.fillText(String(t), px, a.bottom + 17);
    });
    ctx.textAlign = 'right';
    survYTicks.forEach(t => {
      const py = ys.getPixelForValue(t);
      ctx.beginPath(); ctx.moveTo(a.left - 4.5, py); ctx.lineTo(a.left, py); ctx.stroke();
      ctx.fillText(String(t), a.left - 14, py);
    });
    ctx.textAlign = 'center';
    ctx.font = 'bold 12px ' + FF;
    ctx.fillText('Time (months)', (a.left + a.right)/2, a.bottom + 35);
    ctx.save(); ctx.translate(216, (a.top + a.bottom)/2 + 6); ctx.rotate(-Math.PI/2);
    ctx.font = 'bold 15px ' + FF;
    ctx.fillText('Percent survival (%)', 0, 0); ctx.restore();
    // p value
    ctx.textAlign = 'left';
    ctx.font = 'italic 10.5px ' + FF;
    ctx.fillText('P', 275, 445);
    const pw = ctx.measureText('P ').width;
    ctx.font = '10.5px ' + FF;
    ctx.fillText('=' + survP, 275 + pw, 445);
    // legend
    const items = [[ORANGE, survLegend[0], 303.3], [GREEN, survLegend[1], 321]];
    items.forEach(it => {
      ctx.strokeStyle = it[0]; ctx.lineWidth = 2;
      ctx.beginPath();
      ctx.moveTo(433.7, it[2]); ctx.lineTo(446.3, it[2]);
      ctx.moveTo(440, it[2] - 5); ctx.lineTo(440, it[2] + 5);
      ctx.stroke();
      ctx.fillStyle = '#333';
      ctx.font = '8.5px ' + FF;
      ctx.fillText(it[1], 456.7, it[2]);
    });
    // titles
    ctx.fillStyle = '#111';
    ctx.textAlign = 'center';
    ctx.font = 'bold 16px ' + FF;
    ctx.fillText('D', 223, 272);
    ctx.font = '19px ' + FF;
    ctx.strokeStyle = '#111'; ctx.lineWidth = 0.45;
    ctx.fillText('Overall Survival', 353.3, 271);
    ctx.strokeText('Overall Survival', 353.3, 271);
    ctx.restore();
  }
};

new Chart(document.getElementById('cD'), {
  type: 'line',
  data: { datasets: [
    { data: zipXY(highTimes, highSurv), stepped: 'before', borderColor: ORANGE, borderWidth: 2, pointRadius: 0, fill: false },
    { type: 'scatter', data: zipXY(highCensT, highCensS), pointStyle: 'line', rotation: 90, pointRadius: 4.5, borderColor: ORANGE, borderWidth: 1.3, showLine: false },
    { data: zipXY(lowTimes, lowSurv), stepped: 'before', borderColor: GREEN, borderWidth: 2, pointRadius: 0, fill: false },
    { type: 'scatter', data: zipXY(lowCensT, lowCensS), pointStyle: 'line', rotation: 90, pointRadius: 4.5, borderColor: GREEN, borderWidth: 1.3, showLine: false }
  ]},
  options: {
    responsive: false, animation: false, devicePixelRatio: 1,
    layout: { padding: {left: 259.3, top: 293.3, right: 250.3, bottom: 44.7} },
    plugins: { legend: { display: false }, tooltip: { enabled: false } },
    scales: {
      x: { type: 'linear', display: false, min: -1.87, max: 38 },
      y: { type: 'linear', display: false, min: -4.63, max: 105.1 }
    }
  },
  plugins: [survPlugin]
});
</script>
</body>
</html>
